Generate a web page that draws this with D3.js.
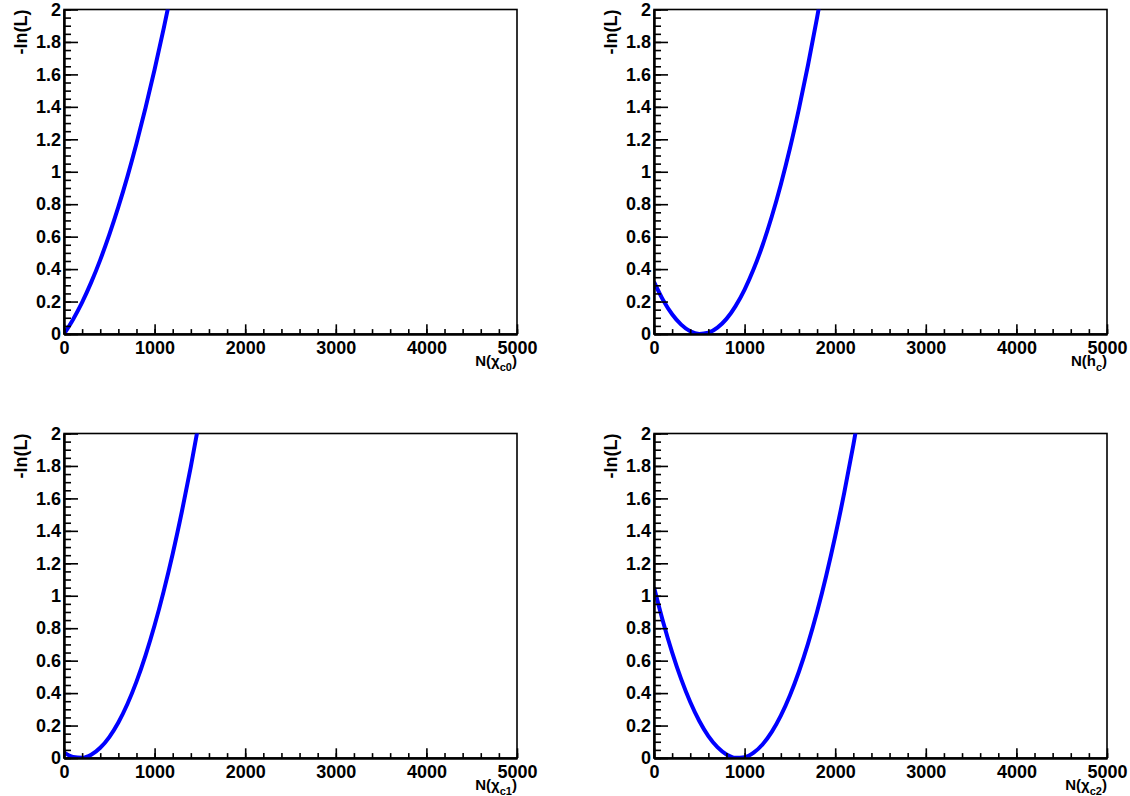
<!DOCTYPE html>
<html>
<head>
<meta charset="utf-8">
<script src="https://d3js.org/d3.v7.min.js"></script>
<style>
  html, body { margin: 0; padding: 0; background: #fff; }
  svg { display: block; }
  text { font-family: "Liberation Sans", Arial, Helvetica, sans-serif; font-weight: bold; }
</style>
</head>
<body>
<svg id="chart" width="1130" height="796"></svg>
<script>
// ---------- data ----------
const xTickValues = [0, 1000, 2000, 3000, 4000, 5000];
const xTickLabels = ["0", "1000", "2000", "3000", "4000", "5000"];
const yTickValues = [0, 0.2, 0.4, 0.6, 0.8, 1, 1.2, 1.4, 1.6, 1.8, 2];
const yTickLabels = ["0", "0.2", "0.4", "0.6", "0.8", "1", "1.2", "1.4", "1.6", "1.8", "2"];
const yTitle = "-ln(L)";

// panel 1: N(chi_c0)
const n_chic0 = [0, 100, 200, 300, 400, 500, 600, 700, 800, 900, 1000, 1100, 1150];
const nll_chic0 = [0, 0.090, 0.195, 0.318, 0.457, 0.612, 0.783, 0.970, 1.174, 1.394, 1.630, 1.882, 2.015];

// panel 2: N(h_c)
const n_hc = [0, 100, 200, 300, 400, 500, 600, 700, 800, 900, 1000, 1100, 1200, 1300, 1400, 1500, 1600, 1700, 1800, 1850];
const nll_hc = [0.322, 0.210, 0.122, 0.058, 0.017, 0.0005, 0.008, 0.039, 0.093, 0.172, 0.274, 0.400, 0.550, 0.724, 0.922, 1.143, 1.389, 1.658, 1.950, 2.106];

// panel 3: N(chi_c1)
const n_chic1 = [0, 100, 200, 300, 400, 500, 600, 700, 800, 900, 1000, 1100, 1200, 1300, 1400, 1500];
const nll_chic1 = [0.034, 0.006, 0.001, 0.020, 0.063, 0.129, 0.219, 0.333, 0.471, 0.633, 0.818, 1.027, 1.259, 1.516, 1.796, 2.100];

// panel 4: N(chi_c2)
const n_chic2 = [0, 100, 200, 300, 400, 500, 600, 700, 800, 900, 1000, 1100, 1200, 1300, 1400, 1500, 1600, 1700, 1800, 1900, 2000, 2100, 2200, 2300];
const nll_chic2 = [1.053, 0.840, 0.651, 0.486, 0.345, 0.228, 0.135, 0.067, 0.022, 0.001, 0.005, 0.033, 0.085, 0.161, 0.261, 0.385, 0.533, 0.705, 0.901, 1.122, 1.367, 1.635, 1.928, 2.245];

const panels = [
  { n: n_chic0, v: nll_chic0, sub: "c0", sym: "\u03C7", left: 64,  top: 9.5 },
  { n: n_hc,    v: nll_hc,    sub: "c",  sym: "h",      left: 654, top: 9.5 },
  { n: n_chic1, v: nll_chic1, sub: "c1", sym: "\u03C7", left: 64,  top: 433.5 },
  { n: n_chic2, v: nll_chic2, sub: "c2", sym: "\u03C7", left: 654, top: 433.5 }
];

// ---------- drawing ----------
const W = 453, H = 324.5;
const svg = d3.select("#chart");

const x = d3.scaleLinear().domain([0, 5000]).range([0, W]);
const y = d3.scaleLinear().domain([0, 2]).range([H, 0]);

const xMinor = d3.range(0, 5001, 200);
const yMinor = d3.range(0, 2.0001, 0.05);

panels.forEach((p, i) => {
  const g = svg.append("g").attr("transform", `translate(${p.left},${p.top})`);

  const clipId = "clip" + i;
  g.append("clipPath").attr("id", clipId)
    .append("rect").attr("x", 0).attr("y", 0).attr("width", W).attr("height", H);

  // frame
  g.append("rect").attr("x", 0).attr("y", 0).attr("width", W).attr("height", H)
    .attr("fill", "none").attr("stroke", "#000").attr("stroke-width", 1.6);

  // curve
  const pts = p.n.map((d, k) => [d, p.v[k]]);
  const line = d3.line().x(d => x(d[0])).y(d => y(d[1])).curve(d3.curveMonotoneX);
  g.append("path").datum(pts)
    .attr("clip-path", `url(#${clipId})`)
    .attr("fill", "none").attr("stroke", "#0000ff").attr("stroke-width", 4)
    .attr("stroke-linejoin", "round")
    .attr("d", line);

  // y minor ticks
  const yMin = g.append("g").call(d3.axisLeft(y).tickValues(yMinor).tickSize(-7).tickSizeOuter(0).tickFormat(""));
  // y major ticks
  const yAx = g.append("g").call(d3.axisLeft(y).tickValues(yTickValues).tickSize(-14).tickSizeOuter(0).tickPadding(3)
      .tickFormat((d, k) => yTickLabels[k]));
  // x minor ticks
  const xMin = g.append("g").attr("transform", `translate(0,${H})`)
    .call(d3.axisBottom(x).tickValues(xMinor).tickSize(-4.9).tickSizeOuter(0).tickFormat(""));
  // x major ticks
  const xAx = g.append("g").attr("transform", `translate(0,${H})`)
    .call(d3.axisBottom(x).tickValues(xTickValues).tickSize(-9.7).tickSizeOuter(0).tickPadding(7)
      .tickFormat((d, k) => xTickLabels[k]));

  [yMin, yAx, xMin, xAx].forEach(a => {
    a.selectAll("line").attr("stroke", "#000").attr("stroke-width", 1.6);
    a.select(".domain").attr("stroke", "#000").attr("stroke-width", 2);
    a.selectAll("text").attr("fill", "#000").style("font-size", "18px")
      .style("font-family", '"Liberation Sans", Arial, sans-serif').style("font-weight", "bold");
  });

  // y title
  g.append("text")
    .attr("transform", `translate(${-37},0) rotate(-90)`)
    .attr("text-anchor", "end")
    .style("font-size", "18px")
    .text(yTitle);

  // x title
  const t = g.append("text")
    .attr("x", W).attr("y", H + 32)
    .attr("text-anchor", "end")
    .style("font-size", "15px");
  t.append("tspan").text("N(");
  t.append("tspan").text(p.sym);
  t.append("tspan").attr("dy", 5).style("font-size", "11px").text(p.sub);
  t.append("tspan").attr("dy", -5).text(")");
});
</script>
</body>
</html>
